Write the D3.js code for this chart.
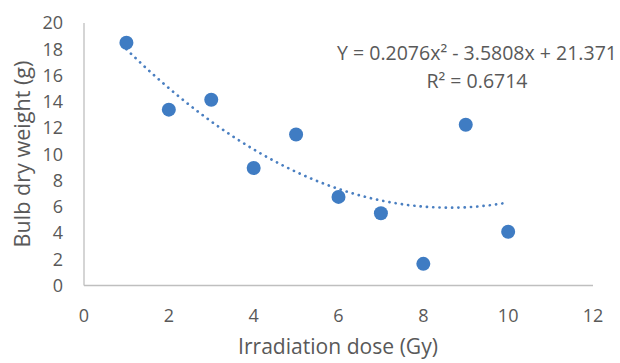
<!DOCTYPE html>
<html><head><meta charset="utf-8">
<script src="https://cdn.jsdelivr.net/npm/d3@7"></script>
<style>body{margin:0;background:#fff;} text{font-family:"Open Sans","Liberation Sans",sans-serif;fill:#595959;}</style>
</head><body>
<svg id="c" width="620" height="363"></svg>
<script>
const doses = [1,2,3,4,5,6,7,8,9,10];
const weights = [18.5,13.4,14.15,8.95,11.5,6.75,5.5,1.65,12.25,4.1];
const xTicks = [0,2,4,6,8,10,12];
const yTicks = [0,2,4,6,8,10,12,14,16,18,20];
const coef = [0.2076,-3.5808,21.371];
const eqLines = ["Y = 0.2076x\u00B2 - 3.5808x + 21.371","R\u00B2 = 0.6714"];

const svg = d3.select("#c");
const x = d3.scaleLinear().domain([0,12]).range([84,593]);
const y = d3.scaleLinear().domain([0,20]).range([285.5,23]);

function fit(sel, w){ sel.each(function(){ const L=this.getComputedTextLength(); const fs=parseFloat(this.getAttribute("font-size")); this.setAttribute("font-size", fs*w/L); }); }

svg.append("line").attr("x1",x(0)).attr("x2",x(0)).attr("y1",y(20)).attr("y2",y(0)).attr("stroke","#bfbfbf").attr("stroke-width",1.3);
svg.append("line").attr("x1",x(0)).attr("x2",x(12)).attr("y1",y(0)).attr("y2",y(0)).attr("stroke","#bfbfbf").attr("stroke-width",1.3);

svg.selectAll(".yt").data(yTicks).join("text").attr("x",63).attr("y",d=>y(d)).attr("dy","0.35em")
  .attr("text-anchor","end").attr("font-size",18).text(d=>d);
svg.selectAll(".xt").data(xTicks).join("text").attr("x",d=>x(d)).attr("y",316).attr("dy","0.35em")
  .attr("text-anchor","middle").attr("font-size",18).text(d=>d);

svg.append("text").attr("transform","translate(22,154) rotate(-90)").attr("text-anchor","middle").attr("dy","0.35em")
  .attr("font-size",18).text("Bulb dry weight (g)").call(fit,187);
svg.append("text").attr("x",338).attr("y",347).attr("text-anchor","middle").attr("dy","0.35em")
  .attr("font-size",18).text("Irradiation dose (Gy)").call(fit,200);

const tx = d3.range(0,101).map(i=>1+9*i/100);
const line = d3.line().x(d=>x(d)).y(d=>y(coef[0]*d*d+coef[1]*d+coef[2]));
svg.append("path").datum(tx).attr("d",line).attr("fill","none").attr("stroke","#4a7fc1")
  .attr("stroke-width",2.7).attr("stroke-dasharray","0.1 6.2").attr("stroke-linecap","round");

svg.selectAll(".pt").data(doses).join("circle").attr("cx",d=>x(d)).attr("cy",(d,i)=>y(weights[i]))
  .attr("r",7).attr("fill","#3f7cc3");

const eq = svg.selectAll(".eq").data(eqLines).join("text").attr("x",477).attr("y",(d,i)=>53+i*28).attr("dy","0.35em")
  .attr("text-anchor","middle").attr("font-size",17).text(d=>d);
fit(eq.filter((d,i)=>i===0),280);
eq.filter((d,i)=>i===1).attr("font-size", eq.filter((d,i)=>i===0).attr("font-size"));
</script>
</body></html>
